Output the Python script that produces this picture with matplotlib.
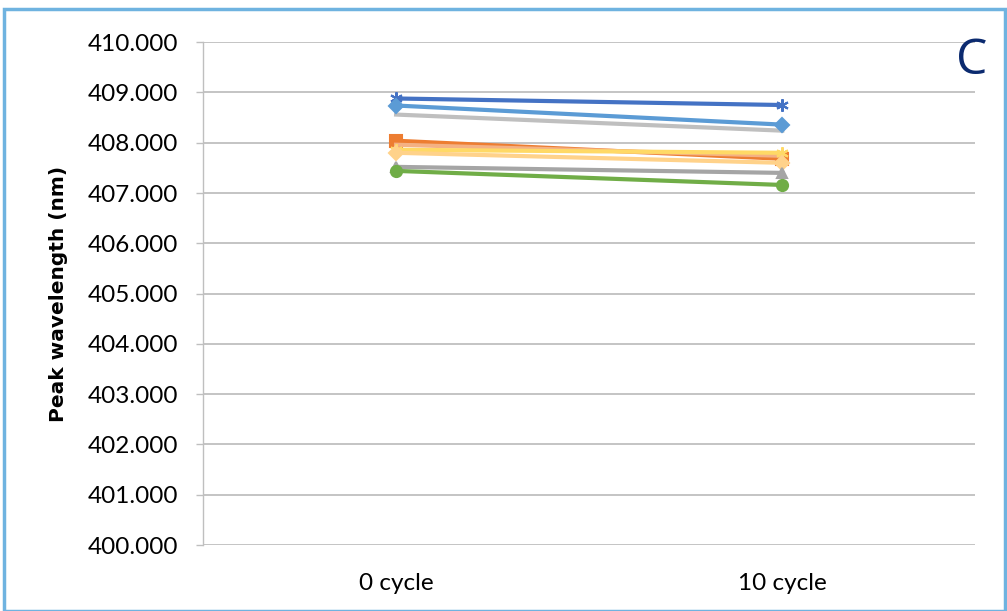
import numpy as np
import matplotlib.pyplot as plt
from matplotlib.patches import Rectangle

plt.rcParams['font.family'] = ['Lato', 'DejaVu Sans']

categories = ['0 cycle', '10 cycle']

# peak wavelengths (nm) for each sample
s_darkblue = [408.88, 408.75]
s_blue = [408.74, 408.36]
s_lightgray = [408.56, 408.24]
s_orange = [408.04, 407.68]
s_salmon = [407.96, 407.74]
s_gold = [407.86, 407.80]
s_yellow = [407.80, 407.60]
s_gray = [407.52, 407.40]
s_green = [407.44, 407.16]

series = [
    (s_lightgray, '#BFBFBF', None, 0),
    (s_darkblue, '#4472C4', (6, 2, 0), 9),
    (s_blue, '#5B9BD5', 'D', 7),
    (s_orange, '#ED7D31', 's', 8),
    (s_salmon, '#F4B183', None, 0),
    (s_gold, '#FFD966', (6, 2, 0), 9),
    (s_yellow, '#FFD28A', 'D', 7),
    (s_gray, '#A5A5A5', '^', 7),
    (s_green, '#70AD47', 'o', 8),
]

fig = plt.figure(figsize=(10.07, 6.11), dpi=100)
ax = fig.add_axes([0.2016, 0.108, 0.767, 0.823])

x = np.arange(len(categories))
for vals, col, mk, ms in series:
    ax.plot(x, vals, color=col, lw=3.0, marker=mk, ms=ms, mec=col, mfc=col, mew=1.5)

ax.set_xlim(-0.5, 1.5)
ax.set_ylim(400, 410)
ax.set_yticks(np.arange(400, 410.5, 1))
ax.set_yticklabels(['%.3f' % v for v in np.arange(400, 410.5, 1)])
ax.set_xticks(x)
ax.set_xticklabels(categories)
ax.grid(axis='y', color='#BFBFBF', lw=1.3)
ax.set_axisbelow(True)
for sp in ax.spines.values():
    sp.set_visible(False)
ax.spines['left'].set_visible(True)
ax.spines['left'].set_color('#BFBFBF')
ax.spines['left'].set_linewidth(1.0)
ax.tick_params(axis='y', length=5, width=1.0, color='#BFBFBF', labelsize=17.5, pad=13)
ax.tick_params(axis='x', length=0, labelsize=17.5, pad=20)
ax.set_ylabel('Peak wavelength (nm)', fontsize=14.5, fontweight='heavy', labelpad=14,
              family=['DejaVu Sans'])

fig.text(0.965, 0.9, 'C', fontsize=36, color='#0B2A6F', ha='center', va='center',
         family='Open Sans')
fig.patches.append(Rectangle((0.004, 0.0), 0.994, 0.985, transform=fig.transFigure,
                             fill=False, ec='#6FB3E0', lw=2.5))

fig.savefig('out.png', dpi=100)
